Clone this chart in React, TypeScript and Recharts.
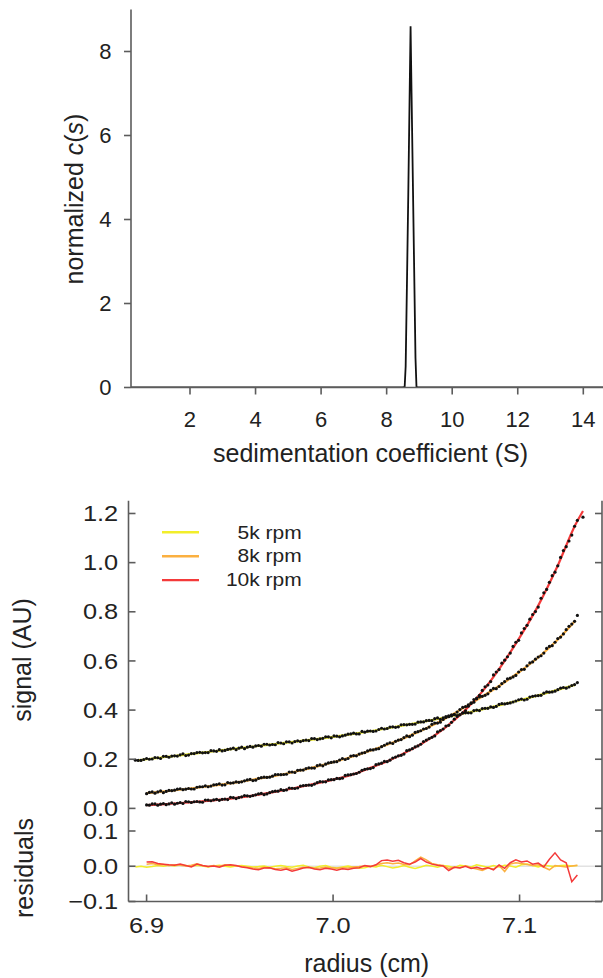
import React from 'react';
import { LineChart, ComposedChart, Line, Scatter, XAxis, YAxis, Legend, ReferenceLine } from 'recharts';

const FONT = "'Liberation Sans', Arial, Helvetica, sans-serif";
const TXT = '#222';
const AXC = '#5c5c5c';
const AXW = 1.6;
const C5 = '#f2ee2a';
const C8 = '#fbb040';
const C10 = '#f43a3a';

// ---------- top panel: c(s) distribution ----------
const sedCoef = [0.2, 2, 4, 6, 8, 8.5, 8.55, 8.58, 8.62, 8.66, 8.7, 8.73, 8.76, 8.8, 8.84, 8.88, 8.91, 8.95, 10, 12, 14, 15.7];
const normCs = [0, 0, 0, 0, 0, 0, 0.02, 0.5, 2.5, 4.6, 6.9, 8.6, 7.0, 4.9, 2.8, 0.7, 0.02, 0, 0, 0, 0, 0];
const sTicks = [2, 4, 6, 8, 10, 12, 14];
const csTicks = [0, 2, 4, 6, 8];

// ---------- middle panel: radial scans ----------
const radius = [6.894, 6.897,
  6.900, 6.903, 6.906, 6.909, 6.912, 6.915, 6.918, 6.921, 6.924, 6.927,
  6.930, 6.933, 6.936, 6.939, 6.942, 6.945, 6.948, 6.951, 6.954, 6.957,
  6.960, 6.963, 6.966, 6.969, 6.972, 6.975, 6.978, 6.981, 6.984, 6.987,
  6.990, 6.993, 6.996, 6.999, 7.002, 7.005, 7.008, 7.011, 7.014, 7.017,
  7.020, 7.023, 7.026, 7.029, 7.032, 7.035, 7.038, 7.041, 7.044, 7.047,
  7.050, 7.053, 7.056, 7.059, 7.062, 7.065, 7.068, 7.071, 7.074, 7.077,
  7.080, 7.083, 7.086, 7.089, 7.092, 7.095, 7.098, 7.101, 7.104, 7.107,
  7.110, 7.113, 7.116, 7.119, 7.122, 7.125, 7.128, 7.131,
  7.134];

const dots5k: (number | null)[] = [0.196, 0.195,
  0.203, 0.201, 0.206, 0.212, 0.208, 0.214, 0.218, 0.215, 0.223, 0.227,
  0.226, 0.227, 0.234, 0.239, 0.236, 0.242, 0.239, 0.249, 0.249, 0.249,
  0.256, 0.261, 0.258, 0.259, 0.266, 0.271, 0.266, 0.275, 0.276, 0.276,
  0.284, 0.283, 0.291, 0.287, 0.294, 0.295, 0.302, 0.306, 0.303, 0.310,
  0.315, 0.315, 0.326, 0.325, 0.332, 0.332, 0.341, 0.342, 0.343, 0.352,
  0.357, 0.357, 0.368, 0.368, 0.373, 0.381, 0.381, 0.389, 0.389, 0.400,
  0.406, 0.407, 0.411, 0.423, 0.425, 0.429, 0.437, 0.445, 0.444, 0.456,
  0.459, 0.469, 0.473, 0.477, 0.489, 0.489, 0.500, 0.512,
  null];

const dots8k: (number | null)[] = [null, null,
  0.060, 0.067, 0.067, 0.064, 0.073, 0.074, 0.080, 0.078, 0.079, 0.086,
  0.088, 0.088, 0.096, 0.100, 0.096, 0.103, 0.108, 0.108, 0.116, 0.113,
  0.122, 0.127, 0.127, 0.137, 0.137, 0.139, 0.148, 0.155, 0.156, 0.165,
  0.164, 0.177, 0.180, 0.187, 0.190, 0.203, 0.203, 0.215, 0.221, 0.227,
  0.238, 0.241, 0.251, 0.263, 0.264, 0.278, 0.288, 0.292, 0.309, 0.316,
  0.325, 0.342, 0.347, 0.362, 0.377, 0.383, 0.402, 0.414, 0.427, 0.446,
  0.456, 0.466, 0.488, 0.496, 0.516, 0.530, 0.541, 0.565, 0.580, 0.596,
  0.616, 0.632, 0.659, 0.676, 0.697, 0.727, 0.750, 0.785,
  null];

const dots10k: (number | null)[] = [null, null,
  0.014, 0.018, 0.013, 0.020, 0.018, 0.017, 0.024, 0.028, 0.024, 0.028,
  0.025, 0.034, 0.035, 0.033, 0.038, 0.045, 0.040, 0.047, 0.051, 0.052,
  0.059, 0.056, 0.064, 0.070, 0.076, 0.075, 0.082, 0.083, 0.093, 0.095,
  0.099, 0.109, 0.108, 0.117, 0.122, 0.123, 0.136, 0.140, 0.147, 0.159,
  0.162, 0.178, 0.184, 0.190, 0.205, 0.214, 0.221, 0.238, 0.250, 0.261,
  0.278, 0.289, 0.311, 0.323, 0.338, 0.363, 0.381, 0.397, 0.429, 0.449,
  0.480, 0.502, 0.543, 0.565, 0.603, 0.632, 0.676, 0.714, 0.745, 0.789,
  0.819, 0.877, 0.920, 0.961, 1.021, 1.065, 1.112, 1.172,
  1.185];

// interleaved second set of scan points
const radiusB = [6.8955, 6.8985,
  6.9015, 6.9045, 6.9075, 6.9105, 6.9135, 6.9165, 6.9195, 6.9225, 6.9255, 6.9285,
  6.9315, 6.9345, 6.9375, 6.9405, 6.9435, 6.9465, 6.9495, 6.9525, 6.9555, 6.9585,
  6.9615, 6.9645, 6.9675, 6.9705, 6.9735, 6.9765, 6.9795, 6.9825, 6.9855, 6.9885,
  6.9915, 6.9945, 6.9975, 7.0005, 7.0035, 7.0065, 7.0095, 7.0125, 7.0155, 7.0185,
  7.0215, 7.0245, 7.0275, 7.0305, 7.0335, 7.0365, 7.0395, 7.0425, 7.0455, 7.0485,
  7.0515, 7.0545, 7.0575, 7.0605, 7.0635, 7.0665, 7.0695, 7.0725, 7.0755, 7.0785,
  7.0815, 7.0845, 7.0875, 7.0905, 7.0935, 7.0965, 7.0995, 7.1025, 7.1055, 7.1085,
  7.1115, 7.1145, 7.1175, 7.1205, 7.1235, 7.1265, 7.1295];

const dots5kB: (number | null)[] = [0.195, 0.199,
  0.200, 0.207, 0.203, 0.212, 0.213, 0.213, 0.222, 0.217, 0.223, 0.228,
  0.227, 0.235, 0.232, 0.234, 0.240, 0.245, 0.245, 0.243, 0.252, 0.254,
  0.253, 0.261, 0.260, 0.268, 0.263, 0.271, 0.272, 0.272, 0.278, 0.284,
  0.280, 0.285, 0.291, 0.295, 0.291, 0.298, 0.303, 0.303, 0.313, 0.314,
  0.313, 0.321, 0.323, 0.331, 0.330, 0.340, 0.340, 0.342, 0.351, 0.352,
  0.358, 0.365, 0.362, 0.373, 0.376, 0.378, 0.389, 0.389, 0.398, 0.398,
  0.407, 0.413, 0.415, 0.426, 0.427, 0.433, 0.442, 0.441, 0.453, 0.458,
  0.460, 0.474, 0.474, 0.483, 0.492, 0.494, 0.504];

const dots8kB: (number | null)[] = [null, null,
  0.065, 0.062, 0.071, 0.069, 0.072, 0.078, 0.076, 0.081, 0.079, 0.088,
  0.092, 0.091, 0.097, 0.095, 0.105, 0.104, 0.106, 0.112, 0.118, 0.115,
  0.125, 0.126, 0.131, 0.138, 0.138, 0.148, 0.146, 0.156, 0.162, 0.164,
  0.174, 0.173, 0.185, 0.189, 0.197, 0.199, 0.213, 0.214, 0.225, 0.234,
  0.238, 0.243, 0.257, 0.267, 0.273, 0.280, 0.295, 0.298, 0.312, 0.323,
  0.331, 0.347, 0.351, 0.370, 0.381, 0.392, 0.411, 0.421, 0.432, 0.454,
  0.460, 0.480, 0.487, 0.508, 0.527, 0.535, 0.555, 0.566, 0.592, 0.607,
  0.621, 0.651, 0.662, 0.691, 0.710, 0.741, 0.761];

const dots10kB: (number | null)[] = [null, null,
  0.013, 0.018, 0.017, 0.015, 0.023, 0.021, 0.020, 0.027, 0.027, 0.026,
  0.034, 0.031, 0.037, 0.037, 0.036, 0.044, 0.044, 0.052, 0.049, 0.055,
  0.061, 0.059, 0.068, 0.070, 0.073, 0.083, 0.081, 0.091, 0.094, 0.094,
  0.105, 0.108, 0.116, 0.117, 0.121, 0.134, 0.137, 0.142, 0.155, 0.161,
  0.166, 0.181, 0.191, 0.196, 0.209, 0.216, 0.235, 0.243, 0.254, 0.272,
  0.284, 0.295, 0.317, 0.335, 0.350, 0.374, 0.388, 0.416, 0.443, 0.460,
  0.495, 0.516, 0.555, 0.591, 0.617, 0.659, 0.684, 0.732, 0.770, 0.801,
  0.855, 0.891, 0.947, 0.987, 1.049, 1.088, 1.148];

const fitRadius = [6.895, 6.90, 6.91, 6.92, 6.93, 6.94, 6.95, 6.96, 6.97, 6.98, 6.99,
  7.00, 7.01, 7.02, 7.03, 7.04, 7.05, 7.06, 7.07, 7.08, 7.09, 7.10, 7.11, 7.12, 7.13, 7.134];
const fit5k: (number | null)[] = [0.195, 0.200, 0.209, 0.218, 0.227, 0.236, 0.245, 0.254, 0.263, 0.272, 0.281,
  0.291, 0.302, 0.314, 0.327, 0.341, 0.355, 0.370, 0.386, 0.403, 0.421, 0.440, 0.460, 0.481, 0.503, null];
const fit8k: (number | null)[] = [null, 0.062, 0.069, 0.078, 0.087, 0.097, 0.108, 0.121, 0.134, 0.150, 0.168,
  0.188, 0.210, 0.235, 0.262, 0.292, 0.326, 0.365, 0.409, 0.455, 0.503, 0.556, 0.614, 0.683, 0.765, null];
const fit10k: (number | null)[] = [null, 0.013, 0.017, 0.023, 0.029, 0.036, 0.045, 0.056, 0.069, 0.084, 0.100,
  0.117, 0.137, 0.165, 0.195, 0.232, 0.275, 0.328, 0.393, 0.475, 0.578, 0.695, 0.825, 0.980, 1.155, 1.210];

const signalTicks = [0, 0.2, 0.4, 0.6, 0.8, 1.0, 1.2];
const radiusTicks = [6.9, 7.0, 7.1];

// ---------- bottom panel: residuals ----------
const res5k: (number | null)[] = [-0.002, 0.000,
  -0.003, -0.001, 0.002, 0.000, 0.003, 0.001, 0.004, 0.002, 0.000, 0.003,
  0.001, -0.002, 0.001, 0.003, 0.000, -0.002, 0.001, 0.002, 0.000, -0.002,
  -0.001, 0.001, -0.003, 0.000, 0.002, -0.001, -0.003, 0.001, 0.003, -0.002,
  -0.004, 0.000, 0.002, -0.003, -0.005, -0.002, 0.001, -0.003, -0.006, -0.004,
  0.000, -0.002, 0.003, -0.001, -0.005, -0.002, 0.002, -0.003, -0.006, -0.002,
  0.003, 0.001, -0.003, 0.002, 0.000, -0.004, 0.003, 0.001, -0.002, 0.004,
  0.001, -0.003, 0.002, -0.002, 0.003, 0.001, -0.003, 0.004, 0.006, 0.002,
  -0.002, 0.003, 0.001, -0.001, 0.002, 0.003, 0.001, 0.002,
  null];
const res8k: (number | null)[] = [null, null,
  0.006, 0.008, 0.004, 0.005, 0.002, 0.004, 0.003, 0.001, 0.003, 0.007,
  0.002, -0.001, 0.002, 0.000, 0.004, 0.003, 0.001, -0.001, -0.003, -0.005,
  -0.006, -0.003, -0.005, -0.007, -0.006, -0.004, -0.009, -0.006, -0.003, -0.004,
  -0.006, -0.005, -0.003, -0.004, -0.006, -0.004, -0.005, -0.002, -0.001, 0.001,
  0.000, 0.003, 0.008, 0.010, 0.007, 0.009, 0.005, 0.004, 0.015, 0.026,
  0.018, 0.008, 0.004, 0.002, -0.006, -0.002, -0.004, 0.001, -0.004, -0.008,
  -0.012, -0.005, -0.008, 0.002, -0.015, 0.006, 0.010, 0.008, 0.005, 0.002,
  0.004, -0.003, -0.010, 0.002, 0.000, -0.002, 0.001, 0.003,
  null];
const res10k: (number | null)[] = [null, null,
  0.012, 0.013, 0.008, 0.006, 0.004, 0.003, 0.006, 0.002, -0.002, 0.006,
  0.002, -0.001, 0.001, -0.003, 0.003, 0.004, 0.002, -0.002, -0.004, -0.008,
  -0.010, -0.005, -0.004, -0.009, -0.011, -0.008, -0.014, -0.010, -0.005, -0.003,
  -0.008, -0.010, -0.006, -0.008, -0.011, -0.007, -0.009, -0.006, -0.004, 0.002,
  -0.001, 0.004, 0.016, 0.018, 0.014, 0.017, 0.010, 0.006, 0.012, 0.022,
  0.012, 0.006, 0.003, 0.001, -0.012, -0.003, -0.005, 0.000, -0.006, -0.003,
  -0.008, -0.004, -0.010, 0.004, -0.006, 0.010, 0.018, 0.012, 0.015, 0.006,
  0.009, -0.002, 0.020, 0.038, 0.018, 0.010, -0.044, -0.025,
  null];
const residualTicks = [-0.1, 0, 0.1];

const seriesNames = ['5k rpm', '8k rpm', '10k rpm'];

type Pt = { r: number; v: number };
const toPts = (xs: number[], ys: (number | null)[]): Pt[] =>
  xs.map((r, i) => ({ r, v: ys[i] as number })).filter((p) => p.v !== null && p.v !== undefined);

const csData = sedCoef.map((s, i) => ({ s, c: normCs[i] }));

// ---------- text helpers ----------
const SX = 1.18;
const Txt = ({ x, y, anchor, size, sx = 1, children }: any) => (
  <text
    transform={`translate(${x},${y}) scale(${sx},1)`}
    textAnchor={anchor}
    fontSize={size}
    fontFamily={FONT}
    fill={TXT}
  >
    {children}
  </text>
);

const fmt1 = (v: number) => (v < 0 ? '\u2212' + Math.abs(v).toFixed(1) : v.toFixed(1));

// top panel ticks (outward)
const TopXTick = (p: any) => (
  <g>
    <line x1={p.x} x2={p.x} y1={p.y} y2={p.y + 7} stroke={AXC} strokeWidth={AXW} />
    <Txt x={p.x} y={p.y + 39.5} anchor="middle" size={22}>{p.payload.value}</Txt>
  </g>
);
const TopYTick = (p: any) => (
  <g>
    <line x1={p.x - 7} x2={p.x} y1={p.y} y2={p.y} stroke={AXC} strokeWidth={AXW} />
    <Txt x={p.x - 19.5} y={p.y + 7.8} anchor="end" size={22}>{p.payload.value}</Txt>
  </g>
);

// lower figure ticks (inward)
const LeftInTick = (p: any) => (
  <g>
    <line x1={p.x} x2={p.x + 7} y1={p.y} y2={p.y} stroke={AXC} strokeWidth={AXW} />
    <Txt x={p.x - 10.3} y={p.y + 7.6} anchor="end" size={21.5} sx={SX}>{fmt1(p.payload.value)}</Txt>
  </g>
);
const RightInTick = (p: any) => (
  <line x1={p.x - 7} x2={p.x} y1={p.y} y2={p.y} stroke={AXC} strokeWidth={AXW} />
);
const TopInTick = (p: any) => (
  <line x1={p.x} x2={p.x} y1={p.y} y2={p.y + 7} stroke={AXC} strokeWidth={AXW} />
);
const BottomInTick = (p: any) => (
  <line x1={p.x} x2={p.x} y1={p.y} y2={p.y - 7} stroke={AXC} strokeWidth={AXW} />
);
const ResXTick = (p: any) => (
  <g>
    <line x1={p.x} x2={p.x} y1={p.y} y2={p.y - 7} stroke={AXC} strokeWidth={AXW} />
    <Txt x={p.x} y={p.y + 31.5} anchor="middle" size={21.5} sx={SX}>{p.payload.value.toFixed(1)}</Txt>
  </g>
);

const axisLine = { stroke: AXC, strokeWidth: AXW };

const DotShape = (p: any) => <circle cx={p.cx} cy={p.cy} r={1.6} fill="#111" />;

const LegendContent = (props: any) => {
  const items = (props.payload || [])
    .filter((e: any) => seriesNames.indexOf(e.value) >= 0)
    .sort((a: any, b: any) => seriesNames.indexOf(a.value) - seriesNames.indexOf(b.value));
  return (
    <svg width={170} height={80} style={{ display: 'block', overflow: 'visible' }}>
      {items.map((e: any, i: number) => {
        const y = 17.3 + 23.9 * i;
        return (
          <g key={e.value}>
            <line x1={12} x2={49} y1={y} y2={y} stroke={e.color} strokeWidth={2.4} />
            <text
              transform={`translate(151.7,${y + 6.2}) scale(1.2,1)`}
              textAnchor="end"
              fontSize={17.5}
              fontFamily={FONT}
              fill={TXT}
            >
              {e.value}
            </text>
          </g>
        );
      })}
    </svg>
  );
};

const TopPanel = () => (
  <LineChart width={640} height={480} data={csData} margin={{ top: 9.5, right: 0, bottom: 0, left: 0 }}>
    <XAxis
      type="number"
      dataKey="s"
      domain={[0.2, 15.73]}
      allowDataOverflow
      ticks={sTicks}
      interval={0}
      height={92.5}
      tickSize={0}
      tickMargin={0}
      tickLine={false}
      axisLine={axisLine}
      tick={TopXTick}
      label={() => (
        <text x={370.5} y={461.7} textAnchor="middle" fontSize={25} fontFamily={FONT} fill={TXT}>
          sedimentation coefficient (S)
        </text>
      )}
    />
    <XAxis xAxisId="top" orientation="top" type="number" dataKey="s" domain={[0.2, 15.73]} allowDataOverflow height={0} tick={false} tickLine={false} axisLine={axisLine} />
    <YAxis
      type="number"
      domain={[0, 9]}
      allowDataOverflow
      ticks={csTicks}
      interval={0}
      width={131}
      tickSize={0}
      tickMargin={0}
      tickLine={false}
      axisLine={axisLine}
      tick={TopYTick}
      label={() => (
        <text transform="translate(83,199) rotate(-90)" textAnchor="middle" fontSize={25} fontFamily={FONT} fill={TXT}>
          normalized <tspan fontStyle="italic">c</tspan>(<tspan fontStyle="italic">s</tspan>)
        </text>
      )}
    />
    <Line type="linear" dataKey="c" stroke="#111" strokeWidth={1.8} dot={false} isAnimationActive={false} />
  </LineChart>
);

const RDOM: [number, number] = [6.8903, 7.1442];

const MainPanel = () => (
  <ComposedChart width={603} height={978} margin={{ top: 500.7, right: 0, bottom: 147, left: 0 }}>
    <XAxis type="number" dataKey="r" domain={RDOM} allowDataOverflow ticks={radiusTicks} interval={0} height={0} tickSize={0} tickMargin={0} tickLine={false} axisLine={axisLine} tick={BottomInTick} />
    <XAxis xAxisId="top" orientation="top" type="number" dataKey="r" domain={RDOM} allowDataOverflow ticks={radiusTicks} interval={0} height={0} tickSize={0} tickMargin={0} tickLine={false} axisLine={axisLine} tick={TopInTick} />
    <YAxis
      type="number"
      dataKey="v"
      domain={[-0.092, 1.252]}
      allowDataOverflow
      ticks={signalTicks}
      interval={0}
      width={128.5}
      tickSize={0}
      tickMargin={0}
      tickLine={false}
      axisLine={axisLine}
      tick={LeftInTick}
      label={() => (
        <text transform="translate(31,660) rotate(-90)" textAnchor="middle" fontSize={25} fontFamily={FONT} fill={TXT}>
          signal (AU)
        </text>
      )}
    />
    <YAxis yAxisId="right" orientation="right" type="number" dataKey="v" domain={[-0.092, 1.252]} allowDataOverflow ticks={signalTicks} interval={0} width={1} tickSize={0} tickMargin={0} tickLine={false} axisLine={axisLine} tick={RightInTick} />
    <Line data={toPts(fitRadius, fit5k)} name={seriesNames[0]} type="monotone" dataKey="v" stroke={C5} strokeWidth={2.2} dot={false} isAnimationActive={false} />
    <Line data={toPts(fitRadius, fit8k)} name={seriesNames[1]} type="monotone" dataKey="v" stroke={C8} strokeWidth={2.2} dot={false} isAnimationActive={false} />
    <Line data={toPts(fitRadius, fit10k)} name={seriesNames[2]} type="monotone" dataKey="v" stroke={C10} strokeWidth={2.2} dot={false} isAnimationActive={false} />
    <Scatter data={toPts(radius, dots5k).concat(toPts(radiusB, dots5kB))} dataKey="v" shape={DotShape} legendType="none" isAnimationActive={false} />
    <Scatter data={toPts(radius, dots8k).concat(toPts(radiusB, dots8kB))} dataKey="v" shape={DotShape} legendType="none" isAnimationActive={false} />
    <Scatter data={toPts(radius, dots10k).concat(toPts(radiusB, dots10kB))} dataKey="v" shape={DotShape} legendType="none" isAnimationActive={false} />
    <Legend
      layout="vertical"
      align="center"
      verticalAlign="middle"
      content={LegendContent}
      wrapperStyle={{ left: 150, top: 515, width: 170, height: 80 }}
    />
  </ComposedChart>
);

const ResidualPanel = () => (
  <LineChart width={603} height={978} margin={{ top: 831, right: 0, bottom: 0, left: 0 }}>
    <XAxis
      type="number"
      dataKey="r"
      domain={RDOM}
      allowDataOverflow
      ticks={radiusTicks}
      interval={0}
      height={76.5}
      tickSize={0}
      tickMargin={0}
      tickLine={false}
      axisLine={axisLine}
      tick={ResXTick}
      label={() => (
        <text x={366.7} y={971.7} textAnchor="middle" fontSize={25} fontFamily={FONT} fill={TXT}>
          radius (cm)
        </text>
      )}
    />
    <XAxis xAxisId="top" orientation="top" type="number" dataKey="r" domain={RDOM} allowDataOverflow ticks={radiusTicks} interval={0} height={0} tickSize={0} tickMargin={0} tickLine={false} axisLine={axisLine} tick={TopInTick} />
    <YAxis
      type="number"
      dataKey="v"
      domain={[-0.1, 0.1]}
      allowDataOverflow
      ticks={residualTicks}
      interval={0}
      width={128.5}
      tickSize={0}
      tickMargin={0}
      tickLine={false}
      axisLine={axisLine}
      tick={LeftInTick}
      label={() => (
        <text transform="translate(33,868) rotate(-90)" textAnchor="middle" fontSize={25} fontFamily={FONT} fill={TXT}>
          residuals
        </text>
      )}
    />
    <YAxis yAxisId="right" orientation="right" type="number" dataKey="v" domain={[-0.1, 0.1]} allowDataOverflow ticks={residualTicks} interval={0} width={1} tickSize={0} tickMargin={0} tickLine={false} axisLine={axisLine} tick={RightInTick} />
    <ReferenceLine y={0} stroke="#e2e2e2" strokeWidth={1.6} />
    <Line data={toPts(radius, res5k)} name={seriesNames[0]} type="linear" dataKey="v" stroke={C5} strokeWidth={1.5} dot={false} isAnimationActive={false} />
    <Line data={toPts(radius, res8k)} name={seriesNames[1]} type="linear" dataKey="v" stroke={C8} strokeWidth={1.5} dot={false} isAnimationActive={false} />
    <Line data={toPts(radius, res10k)} name={seriesNames[2]} type="linear" dataKey="v" stroke={C10} strokeWidth={1.5} dot={false} isAnimationActive={false} />
  </LineChart>
);

const layer: React.CSSProperties = { position: 'absolute', left: 0, top: 0 };

export default function App() {
  return (
    <div style={{ position: 'fixed', left: 0, top: 0, width: 603, height: 978, overflow: 'hidden', background: '#fff' }}>
      <div style={layer}><TopPanel /></div>
      <div style={layer}><ResidualPanel /></div>
      <div style={layer}><MainPanel /></div>
    </div>
  );
}
